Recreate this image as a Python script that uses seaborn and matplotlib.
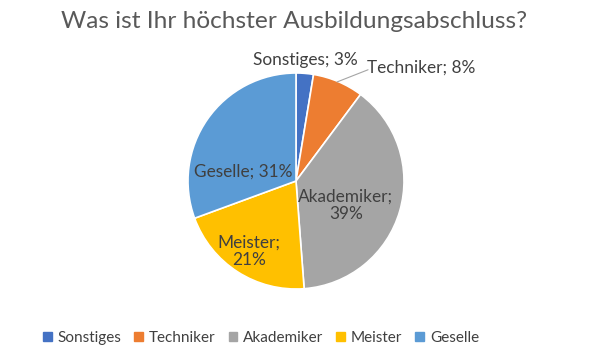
import matplotlib
matplotlib.use("Agg")
import matplotlib.pyplot as plt
import seaborn as sns

# data
categories = ["Sonstiges", "Techniker", "Akademiker", "Meister", "Geselle"]
shares = [2.6, 7.6, 38.6, 20.6, 30.6]
colors = ["#4472C4", "#ED7D31", "#A5A5A5", "#FFC000", "#5B9BD5"]
title = "Was ist Ihr höchster Ausbildungsabschluss?"

sns.set_theme(style="white")
plt.rcParams["font.family"] = ["Lato", "DejaVu Sans"]

fig = plt.figure(figsize=(5.89, 3.56), dpi=100)
fig.patch.set_facecolor("white")

# pie axes: centre (296,181) px, radius 108 px
ax = fig.add_axes([188 / 589, (356 - 289) / 356, 216 / 589, 216 / 356])
wedges, _ = ax.pie(shares, colors=colors, startangle=90, counterclock=False,
                   radius=1.0, wedgeprops=dict(edgecolor="white", linewidth=1.2))
ax.set_xlim(-1, 1)
ax.set_ylim(-1, 1)
ax.set_aspect("equal")
ax.axis("off")

txt_color = "#404040"
label_pos = {
    "Sonstiges": (0.083, 1.12, False),
    "Techniker": (1.16, 1.046, False),
    "Akademiker": (0.463, -0.227, True),
    "Meister": (-0.435, -0.65, True),
    "Geselle": (-0.486, 0.083, False),
}
for cat, val in zip(categories, shares):
    x, y, wrap = label_pos[cat]
    sep = ";\n" if wrap else "; "
    ax.text(x, y, f"{cat}{sep}{round(val):.0f}%", ha="center", va="center",
            fontsize=12.4, color=txt_color, clip_on=False, linespacing=1.1)

# leader line for Techniker label
ax.plot([0.38, 0.667], [0.917, 1.03], color="#A5A5A5", lw=0.8, clip_on=False)

fig.text(0.5, 1 - 22 / 356, title, ha="center", va="center",
         fontsize=17.6, color="#595959")

handles = [plt.Rectangle((0, 0), 1, 1, color=c) for c in colors]
fig.legend(handles, categories, loc="center", bbox_to_anchor=(261 / 589, 1 - 338 / 356),
           ncol=5, frameon=False, fontsize=11, handlelength=0.55, handleheight=0.55,
           handletextpad=0.4, columnspacing=0.85, labelcolor=txt_color)

fig.savefig("out.png", dpi=100)
